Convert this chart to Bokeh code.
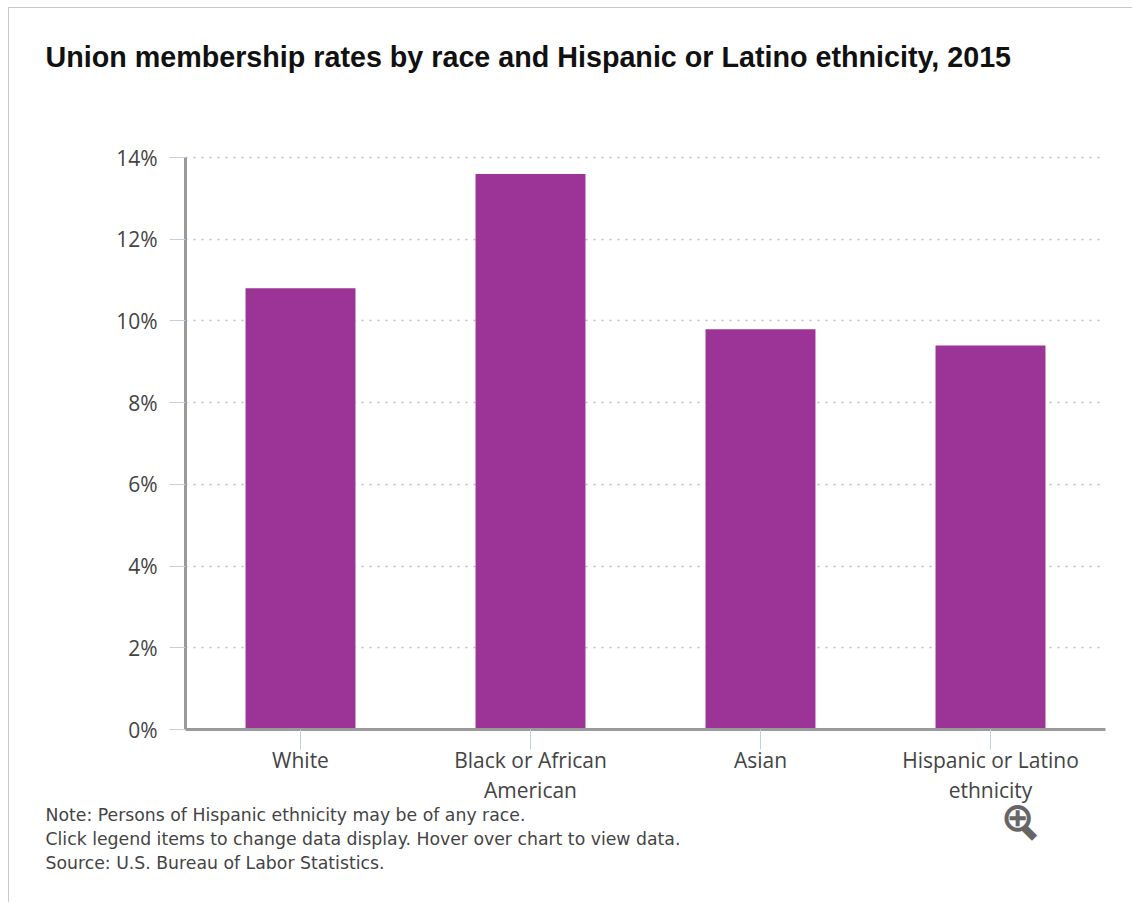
from bokeh.embed import file_html
from bokeh.resources import INLINE
from bokeh.plotting import figure
from bokeh.models import Title, FixedTicker, Range1d, Label

title_text = "Union membership rates by race and Hispanic or Latino ethnicity, 2015"
categories = ["White", "Black or African\nAmerican", "Asian", "Hispanic or Latino\nethnicity"]
rates = [10.8, 13.6, 9.8, 9.4]
y_ticks = [0, 2, 4, 6, 8, 10, 12, 14]
y_labels = {t: f"{t}%" for t in y_ticks}
notes = [
    "Note: Persons of Hispanic ethnicity may be of any race.",
    "Click legend items to change data display. Hover over chart to view data.",
    "Source: U.S. Bureau of Labor Statistics.",
]

p = figure(width=1124, height=895, x_range=categories, y_range=Range1d(0, 14.1),
           output_backend="svg", toolbar_location=None,
           min_border_left=176, min_border_right=28, min_border_top=145, min_border_bottom=174)
p.margin = (8, 0, 0, 9)
p.styles = {"box-shadow": "-1px -1px 0 #c8c8c8"}
p.vbar(x=categories, top=rates, width=0.478, fill_color="#9C3396", line_color=None)

p.outline_line_color = None
p.xgrid.grid_line_color = None
p.ygrid.ticker = FixedTicker(ticks=y_ticks)
p.ygrid.grid_line_color = "#bdbdbd"
p.ygrid.grid_line_dash = "2 6"
p.ygrid.grid_line_width = 1.5

ax = p.yaxis[0]
ax.bounds = (0, 14)
ax.ticker = FixedTicker(ticks=y_ticks)
ax.major_label_overrides = y_labels
ax.axis_line_color = "#9a9a9a"
ax.axis_line_width = 3
ax.major_tick_line_color = "#c0d0e0"
ax.major_tick_out = 16
ax.major_tick_in = 0
ax.minor_tick_line_color = None
ax.major_label_standoff = 12
ax.major_label_text_font = "Open Sans"
ax.major_label_text_font_size = "21px"
ax.major_label_text_color = "#444444"

bx = p.xaxis[0]
bx.axis_line_color = "#9a9a9a"
bx.axis_line_width = 3
bx.major_tick_line_color = "#c0d0e0"
bx.major_tick_out = 20
bx.major_tick_in = 0
bx.major_label_standoff = -4
bx.major_label_orientation = "horizontal"
bx.major_label_text_font = "Open Sans"
bx.major_label_text_font_size = "21px"
bx.major_label_text_color = "#444444"
bx.major_label_text_line_height = 1.09

# magnifier icon: these two rows sit between the frame and the title
p.add_layout(Label(x=832, y=-663, x_units="screen", y_units="screen", text="\u2295",
                   text_font="DejaVu Sans", text_font_style="bold", text_font_size="40px",
                   text_color="#666666", text_align="center", text_baseline="middle"), "above")
p.add_layout(Label(x=845, y=-724, x_units="screen", y_units="screen", text="\u25AC", angle=-45, angle_units="deg",
                   text_font="DejaVu Sans", text_font_size="20px",
                   text_color="#666666", text_align="center", text_baseline="middle"), "above")

p.add_layout(Title(text=title_text, align="left", offset=-140, standoff=10,
                   text_font="Liberation Sans", text_font_style="bold", text_font_size="28.7px",
                   text_color="#111111"), "above")
for line, gap in zip(notes, (-10, 14, -10)):
    p.add_layout(Title(text=line, align="left", offset=-140, standoff=gap,
                       text_font="DejaVu Sans", text_font_style="normal", text_font_size="17.3px",
                       text_color="#444444"), "below")

open("out.html", "w").write(file_html(p, INLINE))
